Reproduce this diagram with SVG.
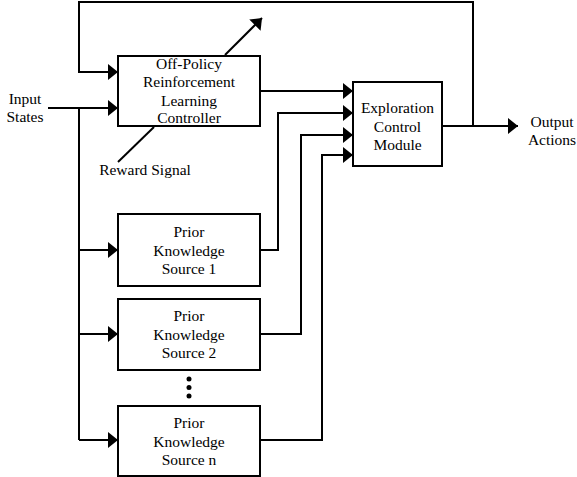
<svg xmlns="http://www.w3.org/2000/svg" width="577" height="477" viewBox="0 0 577 477">
<defs>
<style>
.box{fill:#fff;stroke:#000;stroke-width:2}
.ln{fill:none;stroke:#000;stroke-width:2}
.arr{marker-end:url(#ah)}
text{font-family:"Liberation Serif","Times New Roman",serif;font-size:15.5px;fill:#000;text-anchor:middle}
</style>
<marker id="ah" markerUnits="userSpaceOnUse" markerWidth="12" markerHeight="18" refX="10" refY="8" orient="auto">
<path d="M0,0 L10,8 L0,16 Z" fill="#000"/>
</marker>
</defs>
<rect width="577" height="477" fill="#fff"/>
<g id="connectors">
<path class="ln arr" d="M473,126 V2 H79 V72 H118"/>
<path class="ln arr" d="M48,108 H118"/>
<path class="ln" d="M79,108 V440"/>
<path class="ln arr" d="M79,250 H118"/>
<path class="ln arr" d="M79,334 H118"/>
<path class="ln arr" d="M79,440 H118"/>
<path class="ln arr" d="M225,55 L262,18"/>
<path class="ln" d="M118,162 L154,127"/>
<path class="ln arr" d="M260,91 H353"/>
<path class="ln arr" d="M260,250 H278 V113 H353"/>
<path class="ln arr" d="M260,334 H301 V135 H353"/>
<path class="ln arr" d="M260,440 H322 V155 H353"/>
<path class="ln arr" d="M442,126 H518"/>
</g>
<g id="input-label">
<text x="25" y="104">Input</text>
<text x="25" y="122">States</text>
</g>
<g id="output-label">
<text x="552" y="127">Output</text>
<text x="552" y="145">Actions</text>
</g>
<g id="reward-label">
<text x="145" y="175">Reward Signal</text>
</g>
<g id="rl-controller">
<rect class="box" x="118" y="56" width="142" height="70"/>
<text x="189" y="69">Off-Policy</text>
<text x="189" y="87">Reinforcement</text>
<text x="189" y="106">Learning</text>
<text x="189" y="123">Controller</text>
</g>
<g id="exploration-control">
<rect class="box" x="353" y="82" width="89" height="84"/>
<text x="397.5" y="113">Exploration</text>
<text x="397.5" y="132">Control</text>
<text x="397.5" y="150">Module</text>
</g>
<g id="pks1">
<rect class="box" x="118" y="214" width="142" height="72"/>
<text x="189" y="237">Prior</text>
<text x="189" y="256">Knowledge</text>
<text x="189" y="274">Source 1</text>
</g>
<g id="pks2">
<rect class="box" x="118" y="299" width="142" height="71"/>
<text x="189" y="321">Prior</text>
<text x="189" y="340">Knowledge</text>
<text x="189" y="358">Source 2</text>
</g>
<g id="dots">
<circle cx="189" cy="379" r="2.5"/>
<circle cx="189" cy="387.5" r="2.5"/>
<circle cx="189" cy="396" r="2.5"/>
</g>
<g id="pksn">
<rect class="box" x="118" y="406" width="142" height="70"/>
<text x="189" y="428">Prior</text>
<text x="189" y="447">Knowledge</text>
<text x="189" y="465">Source n</text>
</g>
</svg>
